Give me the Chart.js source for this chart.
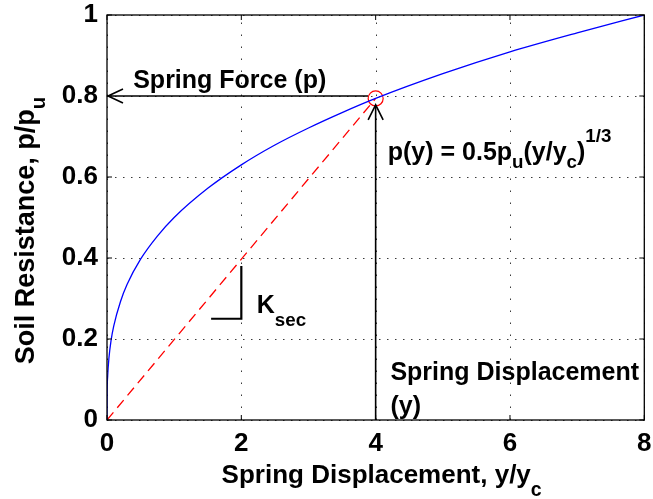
<!DOCTYPE html>
<html>
<head>
<meta charset="utf-8">
<title>Soil spring p-y curve</title>
<script src="https://cdn.jsdelivr.net/npm/chart.js@4"></script>
<style>
  html, body { margin: 0; padding: 0; background: #ffffff; }
  #root { width: 653px; height: 499px; }
</style>
</head>
<body>
<div id="root"><canvas id="chart" width="653" height="499"></canvas></div>
<script>
// p-y curve, y/yc against p/pu
const dispValues   = [0, 0.002, 0.01, 0.03, 0.06, 0.1, 0.2, 0.3, 0.5, 0.75, 1, 1.5, 2, 2.5, 3, 3.5, 4, 5, 6, 7, 8];
const resistValues = [0, 0.063, 0.108, 0.155, 0.196, 0.232, 0.292, 0.335, 0.397, 0.454, 0.5, 0.572, 0.630, 0.679, 0.721, 0.759, 0.794, 0.855, 0.909, 0.956, 1.0];

// secant stiffness line up to the marked point
const secantX = [0, 4];
const secantY = [0, 0.794];
const markX = [4];
const markY = [0.794];

// arrows: spring force (to the left) and spring displacement (upwards)
const forceArrowX = [3.89, 0];
const forceArrowY = [0.8, 0.8];
const dispArrowX = [4, 4];
const dispArrowY = [0, 0.778];

// little slope triangle for Ksec
const slopeX = [1.55, 2, 2];
const slopeY = [0.25, 0.25, 0.38];

const xTicks = [0, 2, 4, 6, 8];
const yTicks = [0, 0.2, 0.4, 0.6, 0.8, 1];

const FONT = '"Liberation Sans", Arial, Helvetica, sans-serif';

window.addEventListener("DOMContentLoaded", loadEvent);

function loadEvent(){
    createChart(document.getElementById("chart"));
}

function toPoints(xs, ys){
    return xs.map((x, i) => ({ x: x, y: ys[i] }));
}

function lineSet(xs, ys, color, width, dash = []){
    return {
        data: toPoints(xs, ys),
        showLine: true,
        borderColor: color,
        borderWidth: width,
        borderDash: dash,
        pointRadius: 0,
        fill: false,
        tension: 0
    };
}

// draws a run of text where pieces can be sub- or superscript
function drawRich(ctx, parts, x, y, size){
    let cx = x;
    for (const [text, mode, shift] of parts) {
        const s = mode === "n" ? size : size * 0.75;
        ctx.font = `bold ${s}px ${FONT}`;
        ctx.fillText(text, cx, y + (shift || 0));
        cx += ctx.measureText(text).width;
    }
    return cx - x;
}

function richWidth(ctx, parts, size){
    let w = 0;
    for (const [text, mode] of parts) {
        const s = mode === "n" ? size : size * 0.75;
        ctx.font = `bold ${s}px ${FONT}`;
        w += ctx.measureText(text).width;
    }
    return w;
}

function chevron(ctx, tx, ty, dx, dy, len, half){
    // open arrow head, tip at (tx, ty), pointing along (dx, dy)
    const px = -dy, py = dx;
    ctx.beginPath();
    ctx.moveTo(tx - dx * len + px * half, ty - dy * len + py * half);
    ctx.lineTo(tx, ty);
    ctx.lineTo(tx - dx * len - px * half, ty - dy * len - py * half);
    ctx.stroke();
}

const framePlugin = {
    id: "frame",
    beforeDatasetsDraw(chart){
        const { ctx, chartArea: a, scales: { x, y } } = chart;
        ctx.save();
        ctx.strokeStyle = "#3a3a3a";
        ctx.lineWidth = 1;
        // dotted grid
        ctx.setLineDash([1.5, 6.5]);
        for (const v of yTicks) {
            const py = Math.round(y.getPixelForValue(v)) + 0.5;
            ctx.beginPath(); ctx.moveTo(a.left, py); ctx.lineTo(a.right, py); ctx.stroke();
        }
        ctx.setLineDash([1.5, 10.5]);
        for (const v of xTicks) {
            const px = Math.round(x.getPixelForValue(v)) + 0.5;
            ctx.beginPath(); ctx.moveTo(px, a.bottom); ctx.lineTo(px, a.top); ctx.stroke();
        }
        ctx.restore();
    },
    afterDatasetsDraw(chart){
        const { ctx, chartArea: a, scales: { x, y } } = chart;
        ctx.save();
        // box with inward ticks
        ctx.strokeStyle = "#000";
        ctx.lineWidth = 1.3;
        ctx.setLineDash([]);
        ctx.strokeRect(a.left, a.top, a.right - a.left, a.bottom - a.top);
        ctx.lineWidth = 1;
        for (const v of xTicks) {
            const px = x.getPixelForValue(v);
            ctx.beginPath();
            ctx.moveTo(px, a.bottom); ctx.lineTo(px, a.bottom - 5);
            ctx.moveTo(px, a.top); ctx.lineTo(px, a.top + 5);
            ctx.stroke();
        }
        for (const v of yTicks) {
            const py = y.getPixelForValue(v);
            ctx.beginPath();
            ctx.moveTo(a.left, py); ctx.lineTo(a.left + 5, py);
            ctx.moveTo(a.right, py); ctx.lineTo(a.right - 5, py);
            ctx.stroke();
        }

        // arrow heads
        ctx.lineWidth = 1.6;
        chevron(ctx, x.getPixelForValue(forceArrowX[1]) + 1, y.getPixelForValue(forceArrowY[1]), -1, 0, 15, 7);
        chevron(ctx, x.getPixelForValue(dispArrowX[1]), y.getPixelForValue(dispArrowY[1]), 0, -1, 15, 7.5);

        // annotations
        ctx.fillStyle = "#000";
        ctx.textAlign = "left";
        ctx.textBaseline = "alphabetic";
        const ann = 25;
        drawRich(ctx, [["Spring Force (p)", "n"]], x.getPixelForValue(0.39), y.getPixelForValue(0.82), ann);
        drawRich(ctx, [["p(y) = 0.5p", "n"], ["u", "sub", 8], ["(y/y", "n"], ["c", "sub", 8], [")", "n"], ["1/3", "sup", -18]],
            x.getPixelForValue(4.18), y.getPixelForValue(0.641), ann);
        drawRich(ctx, [["Spring Displacement", "n"]], x.getPixelForValue(4.22), y.getPixelForValue(0.098), ann);
        drawRich(ctx, [["(y)", "n"]], x.getPixelForValue(4.22), y.getPixelForValue(0.016), ann);
        drawRich(ctx, [["K", "n"], ["sec", "sub", 13]], x.getPixelForValue(2.23), y.getPixelForValue(0.263), ann);

        // axis titles
        const ts = 26;
        const xTitle = [["Spring Displacement, y/y", "n"], ["c", "sub", 13]];
        const xw = richWidth(ctx, xTitle, ts);
        drawRich(ctx, xTitle, (a.left + a.right) / 2 - xw / 2 + 6, 483, ts);

        const yts = 27;
        const yTitle = [["Soil Resistance, p/p", "n"], ["u", "sub", 11]];
        const yw = richWidth(ctx, yTitle, yts);
        ctx.translate(34, (a.top + a.bottom) / 2 + 13);
        ctx.rotate(-Math.PI / 2);
        drawRich(ctx, yTitle, -yw / 2, 0, yts);
        ctx.restore();
    }
};

function createChart(canvas){
    const tickFont = { family: FONT, size: 26, weight: "bold" };
    const circle = {
        data: toPoints(markX, markY),
        showLine: false,
        pointRadius: 7.5,
        pointHoverRadius: 7.5,
        pointBorderColor: "#ff0000",
        pointBackgroundColor: "rgba(0,0,0,0)",
        pointBorderWidth: 1.2
    };
    return new Chart(canvas, {
        type: "scatter",
        data: {
            datasets: [
                Object.assign(lineSet(dispValues, resistValues, "#0000ff", 1.3), { cubicInterpolationMode: "monotone" }),
                circle,
                lineSet(secantX, secantY, "#ff0000", 1.3, [10, 6]),
                lineSet(forceArrowX, forceArrowY, "#000000", 1.6),
                lineSet(dispArrowX, dispArrowY, "#000000", 1.6),
                lineSet(slopeX, slopeY, "#000000", 2.2)
            ]
        },
        options: {
            responsive: false,
            animation: false,
            events: [],
            layout: { padding: { top: 15, right: 8, left: 0, bottom: 0 } },
            plugins: { legend: { display: false }, tooltip: { enabled: false } },
            scales: {
                x: {
                    type: "linear",
                    min: 0, max: 8,
                    grid: { display: false, drawTicks: false },
                    border: { display: false },
                    afterBuildTicks: s => { s.ticks = xTicks.map(v => ({ value: v })); },
                    // labels may hang over the edges, the padding keeps the plot box fixed
                    afterFit: s => { s.height = 79; s.paddingLeft = 0; s.paddingRight = 0; },
                    ticks: { color: "#000", font: tickFont, padding: 8, maxRotation: 0, callback: v => String(v) }
                },
                y: {
                    type: "linear",
                    min: 0, max: 1,
                    grid: { display: false, drawTicks: false },
                    border: { display: false },
                    afterBuildTicks: s => { s.ticks = yTicks.map(v => ({ value: v })); },
                    afterFit: s => { s.width = 107; s.paddingTop = 0; s.paddingBottom = 0; },
                    ticks: { color: "#000", font: tickFont, padding: 9, callback: v => String(v) }
                }
            }
        },
        plugins: [framePlugin]
    });
}
</script>
</body>
</html>
